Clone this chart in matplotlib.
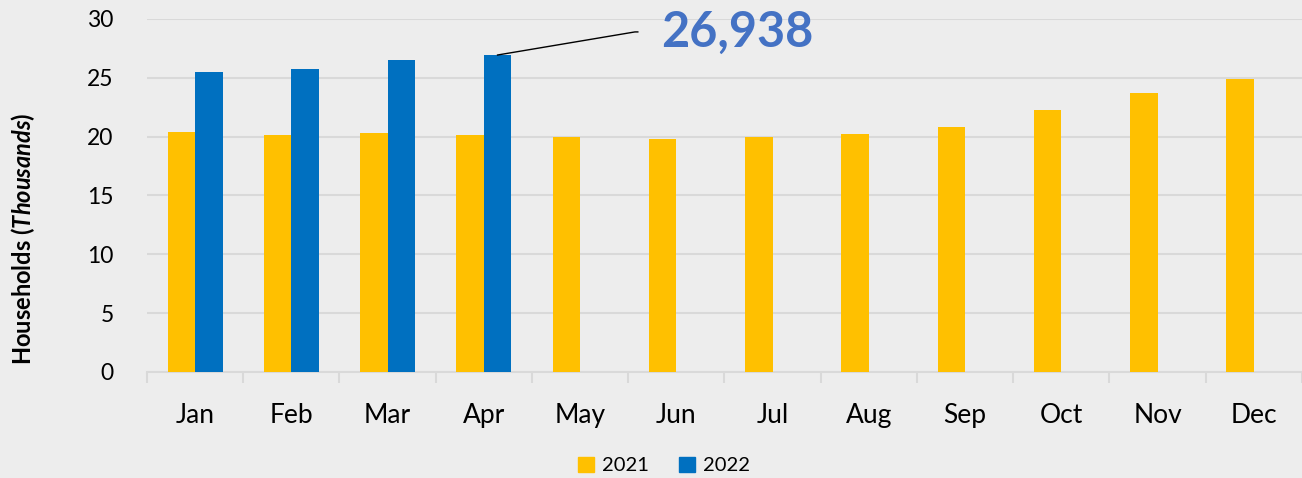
import numpy as np
import matplotlib.pyplot as plt
from matplotlib.patches import Patch

months = ['Jan', 'Feb', 'Mar', 'Apr', 'May', 'Jun', 'Jul', 'Aug', 'Sep', 'Oct', 'Nov', 'Dec']
hh_2021 = [20.4, 20.1, 20.3, 20.15, 19.97, 19.8, 19.97, 20.2, 20.8, 22.26, 23.73, 24.92]
hh_2022 = [25.5, 25.75, 26.5, 26.938]
callout_value = 26938

yellow = '#FFC000'
blue = '#0070C0'
grid_c = '#D9D9D9'
bg = '#EDEDED'

plt.rcParams['font.family'] = ['Lato', 'DejaVu Sans']
plt.rcParams['mathtext.fontset'] = 'custom'
plt.rcParams['mathtext.it'] = 'Lato:italic:bold'

fig = plt.figure(figsize=(13.02, 4.78), dpi=100, facecolor=bg)
ax = fig.add_axes([0.1129, 0.2218, 0.887, 0.7385], facecolor=bg)

x = np.arange(len(months))
w = 0.285
ax.bar(x - w / 2, hh_2021, width=w, color=yellow, zorder=3)
ax.bar(x[:len(hh_2022)] + w / 2, hh_2022, width=w, color=blue, zorder=3)

ax.set_xlim(-0.5, len(months) - 0.5)
ax.set_ylim(0, 30)
ax.set_yticks(range(0, 31, 5))
ax.yaxis.grid(True, color=grid_c, lw=1.5, zorder=0)
ax.tick_params(axis='y', length=0, labelsize=16.5, pad=24)
ax.set_xticks(x)
ax.set_xticklabels(months)
ax.tick_params(axis='x', which='major', length=0, labelsize=19, pad=22)
ax.set_xticks(np.arange(-0.5, len(months)), minor=True)
ax.tick_params(axis='x', which='minor', length=8, width=1.5, color=grid_c)
for s in ['top', 'right', 'left']:
    ax.spines[s].set_visible(False)
ax.spines['bottom'].set_color(grid_c)
ax.spines['bottom'].set_linewidth(1.5)

# callout on the latest 2022 bar
i = len(hh_2022) - 1
ax.plot([i + w / 2, 4.57, 4.6], [hh_2022[i], 28.9, 28.9], color='black', lw=1, zorder=4, clip_on=False)
ax.text(4.84, 28.9, f'{callout_value:,}', color='#4472C4', fontsize=35, fontweight='bold',
        va='center', ha='left')

fig.text(0.018, 0.5, r'Households ($\mathit{Thousands}$)', rotation=90, va='center', ha='center',
         fontsize=17, fontweight='bold')

handles = [Patch(color=yellow, label='2021'), Patch(color=blue, label='2022')]
fig.legend(handles=handles, loc='lower center', bbox_to_anchor=(0.51, -0.03), ncol=2, frameon=False,
           fontsize=14.5, handlelength=0.8, handleheight=0.8, handletextpad=0.4, columnspacing=1.5)

fig.savefig('out.png', dpi=100, facecolor=bg)
